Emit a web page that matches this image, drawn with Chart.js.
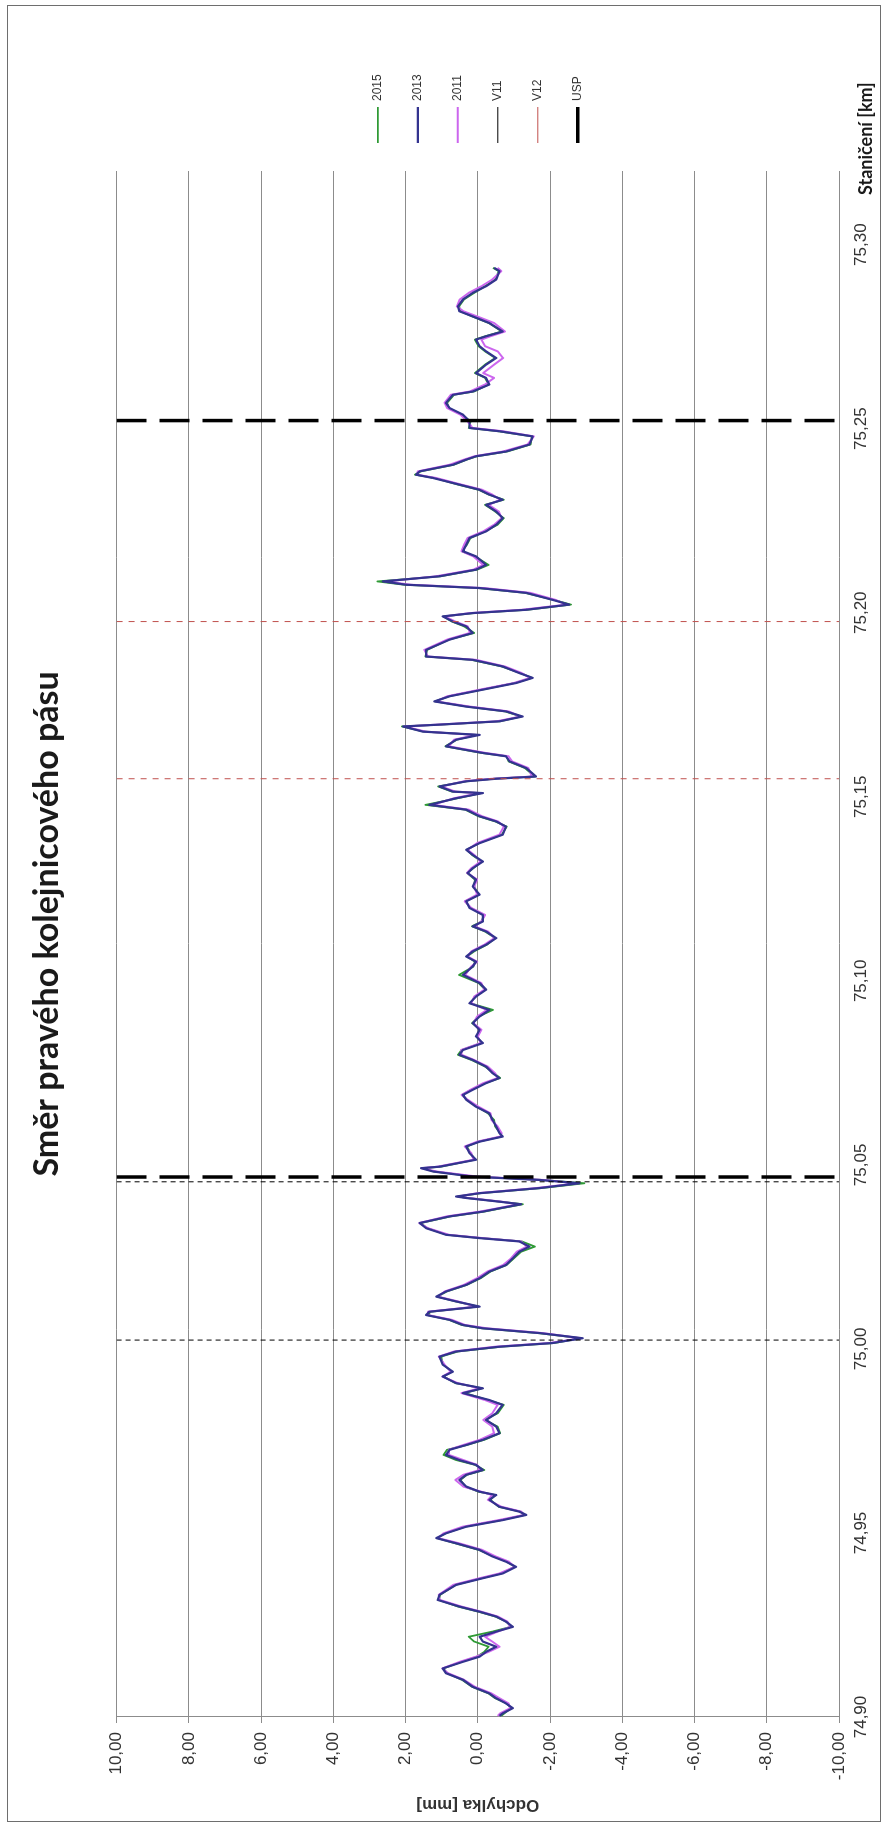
<!DOCTYPE html>
<html><head><meta charset="utf-8">
<script src="https://cdn.jsdelivr.net/npm/chart.js@4.4.1/dist/chart.umd.min.js"></script>
<style>
html,body{margin:0;padding:0;background:#fff;overflow:hidden;}
#wrap{position:absolute;left:0;top:0;width:1827px;height:887px;transform-origin:0 0;transform:translate(0px,1827px) rotate(-90deg);}
canvas{display:block;}
</style></head><body>
<div id="wrap"><canvas id="c" width="1827" height="887" style="width:1827px;height:887px"></canvas></div>
<script>
const chartTitle = 'Směr pravého kolejnicového pásu';
const xTitle = 'Staničení [km]';
const yTitle = 'Odchylka [mm]';
const seriesNames = ['2015', '2013', '2011', 'V11', 'V12', 'USP'];
const xTickValues = [74.90, 74.95, 75.00, 75.05, 75.10, 75.15, 75.20, 75.25, 75.30];
const xMin = 74.90, xMax = 75.32;
const yMin = -10, yMax = 10, yStep = 2;

const stations = [
74.9003,74.9010,74.9024,74.9037,74.9051,74.9064,74.9082,74.9101,74.9119,74.9132,74.9150,74.9164,74.9177,74.9191,74.9205,74.9218,74.9232,74.9245,74.9259,74.9273,74.9286,74.9300,74.9318,74.9332,74.9359,
74.9377,74.9390,74.9408,74.9422,74.9436,74.9454,74.9472,74.9486,74.9499,74.9517,74.9535,74.9549,74.9558,74.9571,74.9590,74.9603,74.9612,74.9626,74.9644,74.9658,74.9671,74.9685,74.9698,74.9712,74.9726,74.9739,74.9753,74.9771,74.9789,74.9807,74.9825,74.9848,74.9861,74.9880,74.9893,74.9907,74.9925,
74.9938,74.9957,74.9979,74.9993,75.0006,75.0016,75.0029,75.0043,75.0056,75.0065,75.0079,75.0092,75.0101,75.0115,75.0129,75.0142,75.0156,75.0174,75.0192,75.0210,75.0228,75.0246,75.0264,75.0278,75.0292,75.0301,75.0310,75.0328,75.0342,75.0360,75.0373,75.0382,75.0393,75.0400,75.0410,75.0414,75.0423,75.0437,75.0450,75.0459,75.0468,75.0482,75.0491,
75.0495,75.0514,75.0532,75.0550,75.0563,75.0577,75.0586,75.0604,75.0622,75.0640,75.0658,75.0677,75.0690,75.0704,75.0722,75.0736,75.0749,75.0767,75.0785,75.0799,75.0812,75.0831,75.0849,75.0867,75.0885,75.0903,75.0921,75.0939,75.0957,75.0976,75.0994,75.1016,75.1039,
75.1052,75.1066,75.1080,75.1098,75.1116,75.1134,75.1148,75.1161,75.1179,75.1198,75.1216,75.1234,75.1256,75.1275,75.1293,75.1306,75.1324,75.1342,75.1356,75.1374,75.1397,75.1419,75.1433,75.1447,75.1465,75.1478,75.1496,75.1510,75.1514,75.1528,75.1542,75.1549,75.1555,75.1578,75.1596,
75.1610,75.1619,75.1637,75.1655,75.1668,75.1677,75.1691,75.1696,75.1705,75.1718,75.1732,75.1745,75.1759,75.1773,75.1791,75.1809,75.1823,75.1836,75.1854,75.1872,75.1881,75.1899,75.1927,75.1945,75.1963,75.1976,75.1990,75.1999,75.2008,75.2022,75.2035,75.2054,75.2067,75.2076,75.2085,75.2099,75.2117,75.2130,75.2153,
75.2167,75.2185,75.2203,75.2221,75.2239,75.2257,75.2275,75.2293,75.2307,75.2321,75.2334,75.2348,75.2366,75.2375,75.2384,75.2402,75.2416,75.2425,75.2438,75.2457,75.2479,75.2493,75.2502,75.2520,75.2538,75.2556,75.2570,75.2592,75.2601,75.2620,75.2638,75.2651,75.2674,75.2692,75.2710,
75.2724,75.2742,75.2751,75.2764,75.2787,75.2805,75.2819,75.2832,75.2851,75.2869,75.2887,75.2905,75.2928,75.2937
];

const v2013 = [
-0.60,-0.69,-0.97,-0.78,-0.51,-0.32,0.14,0.41,0.88,0.97,0.41,-0.05,-0.23,-0.51,-0.14,-0.05,-0.51,-0.97,-0.78,-0.51,-0.05,0.51,1.11,1.06,0.60,
-0.14,-0.69,-1.06,-0.78,-0.41,-0.05,0.60,1.15,0.88,0.32,-0.69,-1.34,-1.15,-0.60,-0.32,-0.51,-0.05,0.32,0.51,0.32,-0.14,0.05,0.51,0.88,0.78,0.32,-0.14,-0.60,-0.51,-0.23,-0.51,-0.69,-0.32,0.41,-0.14,0.60,0.97,
0.69,0.97,1.06,0.60,-0.60,-2.07,-2.90,-1.71,-0.14,0.41,0.78,1.43,1.34,-0.05,0.60,1.15,0.88,0.32,-0.05,-0.32,-0.78,-0.97,-1.15,-1.43,-1.15,-0.05,0.88,1.43,1.61,0.78,-0.14,-0.60,-1.20,-0.60,0.32,0.60,-0.05,-1.71,-2.81,-1.71,0.14,1.24,1.57,
1.06,0.05,0.23,0.32,-0.05,-0.69,-0.60,-0.51,-0.41,-0.32,0.05,0.32,0.41,0.14,-0.23,-0.60,-0.41,-0.23,0.14,0.51,0.41,-0.14,0.05,-0.05,0.14,-0.05,-0.32,0.23,0.05,-0.23,-0.05,0.41,0.14,
0.05,0.32,0.14,-0.23,-0.51,-0.23,0.14,-0.14,-0.14,0.23,0.32,-0.05,0.14,0.05,0.28,0.14,-0.14,0.14,0.32,-0.05,-0.69,-0.78,-0.51,-0.05,0.32,1.34,0.60,-0.14,0.69,1.06,0.32,-0.51,-1.61,-1.34,-0.88,
-0.78,-0.14,0.88,0.60,-0.05,1.52,2.07,1.06,-0.60,-1.24,-0.78,0.32,1.20,0.78,-0.14,-1.06,-1.52,-1.15,-0.69,0.14,1.43,1.43,0.78,0.14,0.32,0.69,0.97,0.14,-1.34,-2.53,-2.07,-1.34,-0.05,1.98,2.63,1.06,0.05,-0.23,0.05,
0.41,0.32,0.23,-0.23,-0.51,-0.69,-0.51,-0.23,-0.69,-0.32,-0.05,0.51,1.24,1.71,1.61,0.69,0.32,0.05,-0.78,-1.43,-1.52,-0.60,0.23,0.23,0.41,0.78,0.88,0.69,0.14,-0.32,-0.23,0.05,-0.23,-0.51,-0.23,
-0.05,0.05,-0.23,-0.69,-0.32,0.14,0.51,0.55,0.41,0.14,-0.23,-0.51,-0.60,-0.45
];

const v2015 = [
-0.65,-0.74,-0.92,-0.80,-0.48,-0.30,0.16,0.44,0.85,0.95,0.45,0.02,-0.18,-0.30,0.10,0.25,-0.40,-0.92,-0.80,-0.48,-0.02,0.55,1.08,1.04,0.62,
-0.10,-0.65,-1.02,-0.80,-0.45,-0.02,0.63,1.12,0.90,0.35,-0.66,-1.30,-1.18,-0.58,-0.35,-0.48,-0.02,0.35,0.48,0.30,-0.18,0.08,0.60,0.95,0.85,0.30,-0.18,-0.62,-0.55,-0.20,-0.55,-0.72,-0.28,0.36,-0.12,0.62,0.95,
0.72,0.95,1.02,0.55,-0.66,-2.12,-2.85,-1.66,-0.10,0.45,0.80,1.40,1.30,-0.02,0.62,1.12,0.86,0.30,-0.08,-0.35,-0.80,-1.00,-1.20,-1.58,-1.22,-0.10,0.85,1.40,1.58,0.75,-0.18,-0.65,-1.25,-0.62,0.30,0.55,-0.08,-1.78,-2.95,-1.80,0.10,1.22,1.52,
1.02,0.08,0.20,0.30,-0.02,-0.66,-0.62,-0.48,-0.45,-0.28,0.02,0.30,0.44,0.18,-0.20,-0.62,-0.45,-0.20,0.18,0.55,0.45,-0.10,0.02,-0.08,0.16,-0.02,-0.42,0.20,0.08,-0.20,-0.02,0.52,0.12,
0.08,0.30,0.10,-0.25,-0.48,-0.20,0.16,-0.10,-0.18,0.20,0.35,-0.02,0.10,0.08,0.30,0.12,-0.10,0.16,0.30,-0.02,-0.66,-0.80,-0.48,-0.02,0.35,1.45,0.55,-0.10,0.72,1.10,0.30,-0.45,-1.58,-1.30,-0.85,
-0.80,-0.10,0.90,0.58,0.02,1.50,2.10,1.02,-0.62,-1.20,-0.75,0.30,1.18,0.80,-0.12,-1.02,-1.50,-1.18,-0.66,0.18,1.45,1.40,0.80,0.10,0.38,0.72,0.95,0.10,-1.38,-2.58,-2.10,-1.30,0.00,2.05,2.78,1.02,0.02,-0.30,0.08,
0.44,0.30,0.20,-0.20,-0.55,-0.72,-0.48,-0.20,-0.72,-0.30,-0.02,0.55,1.20,1.74,1.58,0.66,0.30,0.02,-0.82,-1.46,-1.50,-0.56,0.25,0.20,0.44,0.80,0.85,0.66,0.10,-0.30,-0.20,0.08,-0.20,-0.48,-0.20,
-0.02,0.08,-0.20,-0.66,-0.30,0.16,0.48,0.52,0.38,0.10,-0.20,-0.48,-0.58,-0.42
];

const v2011 = [
-0.55,-0.62,-0.90,-0.85,-0.60,-0.38,0.08,0.38,0.82,0.98,0.50,0.05,-0.30,-0.60,-0.40,-0.20,-0.55,-0.90,-0.82,-0.55,-0.10,0.45,1.05,1.08,0.68,
-0.05,-0.60,-1.02,-0.86,-0.50,-0.12,0.52,1.10,0.95,0.42,-0.58,-1.28,-1.20,-0.66,-0.28,-0.40,-0.10,0.40,0.62,0.40,-0.05,0.02,0.40,0.80,0.80,0.40,-0.05,-0.45,-0.40,-0.15,-0.40,-0.55,-0.20,0.45,-0.05,0.55,0.98,
0.75,0.92,1.08,0.66,-0.48,-1.98,-2.85,-1.80,-0.25,0.35,0.72,1.38,1.38,0.05,0.55,1.10,0.92,0.38,0.02,-0.26,-0.70,-0.92,-1.08,-1.36,-1.20,-0.15,0.80,1.38,1.62,0.86,-0.05,-0.55,-1.12,-0.66,0.25,0.55,0.02,-1.62,-2.75,-1.82,0.00,1.15,1.55,
1.12,0.12,0.18,0.36,0.02,-0.62,-0.66,-0.55,-0.38,-0.35,-0.02,0.28,0.45,0.20,-0.15,-0.55,-0.48,-0.28,0.10,0.45,0.46,-0.08,0.00,-0.10,0.12,0.02,-0.25,0.18,0.10,-0.18,-0.10,0.35,0.18,
0.02,0.28,0.18,-0.18,-0.46,-0.28,0.10,-0.10,-0.20,0.18,0.36,0.02,0.10,0.02,0.30,0.18,-0.08,0.10,0.28,0.02,-0.60,-0.72,-0.56,-0.12,0.25,1.25,0.66,-0.05,0.62,1.02,0.38,-0.40,-1.50,-1.40,-0.95,
-0.85,-0.22,0.80,0.66,0.05,1.45,2.02,1.12,-0.52,-1.18,-0.85,0.22,1.15,0.85,-0.05,-1.00,-1.45,-1.22,-0.75,0.05,1.38,1.48,0.85,0.22,0.28,0.62,0.92,0.22,-1.22,-2.45,-2.15,-1.45,-0.18,1.85,2.55,1.15,0.12,-0.15,0.12,
0.45,0.38,0.28,-0.15,-0.45,-0.66,-0.58,-0.30,-0.62,-0.40,-0.12,0.45,1.15,1.68,1.66,0.78,0.38,0.10,-0.70,-1.38,-1.55,-0.70,0.15,0.28,0.48,0.85,0.92,0.75,0.22,-0.20,-0.45,-0.15,-0.45,-0.70,-0.55,
-0.20,-0.10,-0.35,-0.75,-0.45,0.02,0.40,0.58,0.50,0.25,-0.10,-0.40,-0.65,-0.55
];

const v11Stations = [75.0024, 75.0454];
const v12Stations = [75.1549, 75.1976];
const uspStations = [75.0467, 75.2522];

const fmt = v => Number(v).toFixed(2).replace('.', ',');
const toPoints = vals => stations.map((x, i) => ({x: x, y: vals[i]}));
const markerPoints = arr => {
  const d = [];
  arr.forEach(s => { d.push({x: s, y: yMax}, {x: s, y: yMin}, {x: s, y: null}); });
  return d;
};

const PLOT_RIGHT = 1656;

const deco = {
  id: 'deco',
  beforeDraw(chart) {
    const ctx = chart.ctx;
    ctx.save();
    ctx.fillStyle = '#ffffff';
    ctx.fillRect(0, 0, chart.width, chart.height);
    ctx.strokeStyle = '#6e6e6e';
    ctx.lineWidth = 1;
    ctx.strokeRect(5.5, 7.5, 1816, 873);
    ctx.restore();
  },
  afterDraw(chart) {
    const ctx = chart.ctx;
    ctx.save();
    ctx.fillStyle = '#1a1a1a';
    ctx.textAlign = 'center';
    ctx.textBaseline = 'middle';
    ctx.font = 'bold 34px Lato, "Open Sans", sans-serif';
    ctx.fillText(chartTitle, 903, 47);
    ctx.font = 'bold 18px Lato, "Open Sans", sans-serif';
    ctx.textAlign = 'left';
    ctx.fillText(xTitle, 1632, 866);
    ctx.restore();
  }
};

const chart = new Chart(document.getElementById('c'), {
  type: 'line',
  data: {
    datasets: [
      {label: seriesNames[0], data: toPoints(v2015), borderColor: '#2f9a35', backgroundColor: '#2f9a35', borderWidth: 1.8, order: 5},
      {label: seriesNames[1], data: toPoints(v2013), borderColor: '#33338f', backgroundColor: '#33338f', borderWidth: 2.2, order: 3},
      {label: seriesNames[2], data: toPoints(v2011), borderColor: '#cc66ee', backgroundColor: '#cc66ee', borderWidth: 2, order: 4},
      {label: seriesNames[3], data: markerPoints(v11Stations), borderColor: '#000000', backgroundColor: '#000000', borderWidth: 1, borderDash: [5, 4], order: 1},
      {label: seriesNames[4], data: markerPoints(v12Stations), borderColor: '#c0504d', backgroundColor: '#c0504d', borderWidth: 1, borderDash: [6, 6], order: 2},
      {label: seriesNames[5], data: markerPoints(uspStations), borderColor: '#000000', backgroundColor: '#000000', borderWidth: 3.5, borderDash: [30, 13], order: 0}
    ]
  },
  options: {
    responsive: false,
    animation: false,
    devicePixelRatio: 1,
    spanGaps: false,
    elements: {point: {radius: 0, hoverRadius: 0}, line: {tension: 0, borderCapStyle: 'butt', borderJoinStyle: 'round'}},
    layout: {padding: {left: 6, top: 116.6, right: 60, bottom: 0}},
    plugins: {
      tooltip: {enabled: false},
      title: {display: false},
      legend: {
        display: true,
        position: 'right',
        fullSize: false,
        align: 'center',
        labels: {
          usePointStyle: true,
          pointStyle: 'line',
          pointStyleWidth: 36,
          boxWidth: 36,
          padding: 28,
          color: '#333333',
          font: {family: '"Liberation Sans", Arial, sans-serif', size: 12},
          sort: (a, b) => a.datasetIndex - b.datasetIndex
        }
      }
    },
    scales: {
      x: {
        type: 'linear',
        position: 'bottom',
        min: xMin,
        max: xMax,
        afterFit: s => { s.height = 48; },
        afterBuildTicks: s => { s.ticks = xTickValues.map(v => ({value: v})); },
        grid: {display: false, drawTicks: false},
        border: {display: false},
        ticks: {
          padding: 12,
          maxRotation: 0,
          autoSkip: false,
          color: '#333333',
          font: {family: '"Liberation Sans", Arial, sans-serif', size: 17},
          callback: v => fmt(v)
        }
      },
      y: {
        position: 'left',
        min: yMin,
        max: yMax,
        afterFit: s => { s.width = 104; },
        grid: {color: '#8c8c8c', lineWidth: 1, drawTicks: true, tickLength: 6, tickColor: '#8c8c8c'},
        border: {display: true, color: '#8c8c8c', width: 1},
        ticks: {
          stepSize: yStep,
          padding: 9,
          color: '#333333',
          font: {family: '"Liberation Sans", Arial, sans-serif', size: 17},
          callback: v => fmt(v)
        },
        title: {
          display: true,
          text: yTitle,
          color: '#333333',
          padding: {top: 6, bottom: 0},
          font: {family: '"Liberation Sans", Arial, sans-serif', size: 17, weight: 'bold'}
        }
      }
    }
  },
  plugins: [deco]
});

const dx = chart.chartArea.right - PLOT_RIGHT;
if (Math.abs(dx) > 0.5) {
  chart.options.layout.padding.right += dx;
  chart.update('none');
}
</script>
</body></html>
